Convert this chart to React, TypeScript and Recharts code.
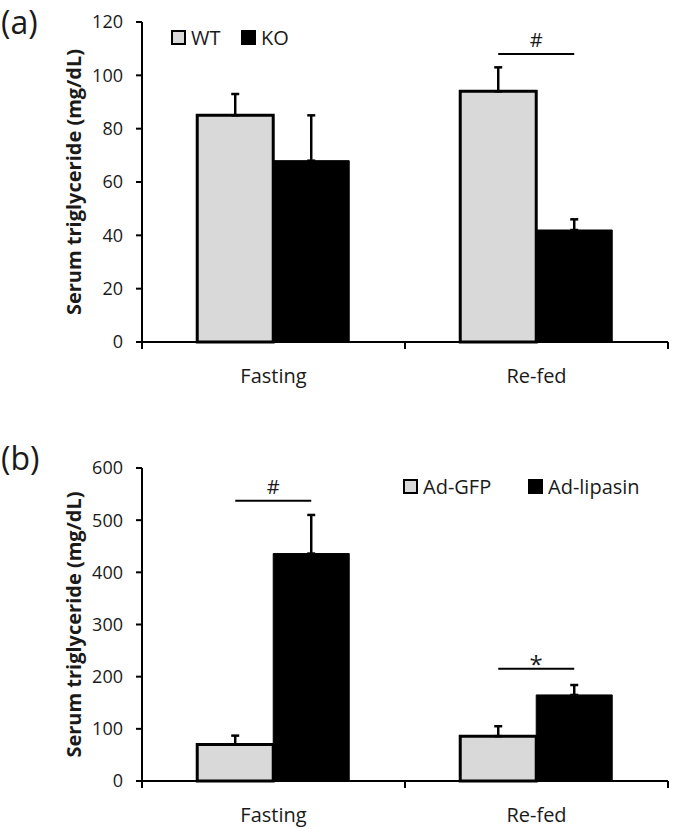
import React from "react";
import { Bar, BarChart, ErrorBar, Label, XAxis, YAxis } from "recharts";

const categories = ["Fasting", "Re-fed"];

// panel (a): WT vs KO
const wtMean = [85, 94];
const wtSem = [8, 9];
const koMean = [68, 42];
const koSem = [17, 4];
const ticksA = [0, 20, 40, 60, 80, 100, 120];
const sigIndexA = [1];
const sigValueA = [108];
const sigMarkA = ["#"];

// panel (b): Ad-GFP vs Ad-lipasin
const gfpMean = [70, 86];
const gfpSem = [17, 19];
const lipMean = [436, 165];
const lipSem = [74, 19];
const ticksB = [0, 100, 200, 300, 400, 500, 600];
const sigIndexB = [0, 1];
const sigValueB = [537, 215];
const sigMarkB = ["#", "*"];

const FONT = '"Open Sans", sans-serif';
const INK = "#1a1a1a";
const GREY = "#d9d9d9";
const WIDTH = 675;
const PLOT_LEFT = 142;
const PLOT_RIGHT = 668;
const Y_AXIS_W = 60;
const X_AXIS_H = 30;
const TITLE = "Serum triglyceride (mg/dL)";

type PanelProps = {
  tag: string;
  top: number;
  height: number;
  plotTop: number;
  plotBottom: number;
  names: [string, string];
  meanA: number[];
  semA: number[];
  meanB: number[];
  semB: number[];
  ticks: number[];
  sigIndex: number[];
  sigValue: number[];
  sigMark: string[];
  legendLeft: number[];
  legendY: number;
  tagY: number;
};

function Panel(p: PanelProps) {
  const data = categories.map((c, i) => ({
    category: c,
    a: p.meanA[i],
    aErr: [0, p.semA[i]],
    b: p.meanB[i],
    bErr: [0, p.semB[i]],
  }));
  const band = (PLOT_RIGHT - PLOT_LEFT) / categories.length;
  const max = p.ticks[p.ticks.length - 1];
  const midY = (p.plotTop + p.plotBottom) / 2;

  const renderTick = (t: any) => {
    const left = t.x - band / 2;
    const right = t.x + band / 2;
    return (
      <g>
        <line x1={left} x2={left} y1={p.plotBottom} y2={p.plotBottom + 7} stroke="#000" strokeWidth={2} />
        {t.index === categories.length - 1 && (
          <line x1={right} x2={right} y1={p.plotBottom} y2={p.plotBottom + 7} stroke="#000" strokeWidth={2} />
        )}
        <text x={t.x} y={p.plotBottom + 41} textAnchor="middle" fontSize={20} fill={INK} fontFamily={FONT}>
          {t.payload.value}
        </text>
      </g>
    );
  };

  // significance bar spans the centres of the two bars in a group
  const renderSig = (lp: any) => {
    const k = p.sigIndex.indexOf(lp.index);
    if (k < 0) return null;
    const vb = lp.viewBox ?? lp;
    const ppu = vb.height / p.meanB[lp.index];
    const ly = vb.y + vb.height - p.sigValue[k] * ppu;
    const mark = p.sigMark[k];
    return (
      <g key={`sig-${lp.index}`}>
        <line x1={vb.x - vb.width / 2} x2={vb.x + vb.width / 2} y1={ly} y2={ly} stroke="#000" strokeWidth={2} />
        <text
          x={vb.x}
          y={mark === "*" ? ly + 4 : ly - 7}
          textAnchor="middle"
          fontSize={mark === "*" ? 24 : 20}
          fill={INK}
          fontFamily={FONT}
        >
          {mark}
        </text>
      </g>
    );
  };

  return (
    <div style={{ position: "absolute", left: 0, top: p.top, width: WIDTH, height: p.height }}>
      <span
        style={{ position: "absolute", left: 1, top: p.tagY - 22, fontSize: 32, lineHeight: "44px", color: INK }}
      >
        {p.tag}
      </span>
      {p.names.map((n, i) => (
        <div
          key={n}
          style={{
            position: "absolute",
            left: p.legendLeft[i],
            top: p.legendY - 12,
            height: 24,
            display: "flex",
            alignItems: "center",
            fontSize: 20,
            color: INK,
            zIndex: 2,
          }}
        >
          <span
            style={{
              width: 15,
              height: 15,
              boxSizing: "border-box",
              border: "2.5px solid #000",
              background: i === 0 ? GREY : "#000",
              marginRight: 5,
            }}
          />
          {n}
        </div>
      ))}
      <BarChart
        width={WIDTH}
        height={p.height}
        data={data}
        barCategoryGap="21%"
        barGap={0}
        margin={{
          top: p.plotTop,
          right: WIDTH - PLOT_RIGHT,
          left: PLOT_LEFT - Y_AXIS_W,
          bottom: p.height - p.plotBottom - X_AXIS_H,
        }}
      >
        <XAxis
          dataKey="category"
          height={X_AXIS_H}
          interval={0}
          axisLine={{ stroke: "#000", strokeWidth: 2 }}
          tickLine={false}
          tick={renderTick}
        />
        <YAxis
          domain={[0, max]}
          ticks={p.ticks}
          interval={0}
          width={Y_AXIS_W}
          axisLine={{ stroke: "#000", strokeWidth: 2 }}
          tickLine={{ stroke: "#000", strokeWidth: 2 }}
          tickSize={6}
          tickMargin={13}
          tick={{ fontSize: 18, fill: INK, fontFamily: FONT }}
        >
          <Label
            content={() => (
              <text
                x={73}
                y={midY}
                transform={`rotate(-90 73 ${midY})`}
                textAnchor="middle"
                dominantBaseline="central"
                fontSize={20}
                fontWeight="bold"
                fill={INK}
                fontFamily={FONT}
              >
                {TITLE}
              </text>
            )}
          />
        </YAxis>
        <Bar dataKey="a" name={p.names[0]} fill={GREY} stroke="#000" strokeWidth={3} isAnimationActive={false}>
          <ErrorBar dataKey="aErr" width={4} stroke="#000" strokeWidth={2.5} direction="y" />
        </Bar>
        <Bar dataKey="b" name={p.names[1]} fill="#000" stroke="#000" strokeWidth={1} isAnimationActive={false} label={renderSig}>
          <ErrorBar dataKey="bErr" width={4} stroke="#000" strokeWidth={2.5} direction="y" />
        </Bar>
      </BarChart>
    </div>
  );
}

export default function App() {
  return (
    <div
      style={{
        position: "absolute",
        left: 0,
        top: 0,
        width: WIDTH,
        height: 829,
        background: "#fff",
        fontFamily: FONT,
      }}
    >
      <Panel
        tag="(a)"
        top={0}
        height={400}
        plotTop={22}
        plotBottom={342}
        names={["WT", "KO"]}
        meanA={wtMean}
        semA={wtSem}
        meanB={koMean}
        semB={koSem}
        ticks={ticksA}
        sigIndex={sigIndexA}
        sigValue={sigValueA}
        sigMark={sigMarkA}
        legendLeft={[171, 241]}
        legendY={37}
        tagY={22}
      />
      <Panel
        tag="(b)"
        top={400}
        height={429}
        plotTop={68}
        plotBottom={381}
        names={["Ad-GFP", "Ad-lipasin"]}
        meanA={gfpMean}
        semA={gfpSem}
        meanB={lipMean}
        semB={lipSem}
        ticks={ticksB}
        sigIndex={sigIndexB}
        sigValue={sigValueB}
        sigMark={sigMarkB}
        legendLeft={[403, 528]}
        legendY={86}
        tagY={58}
      />
    </div>
  );
}
